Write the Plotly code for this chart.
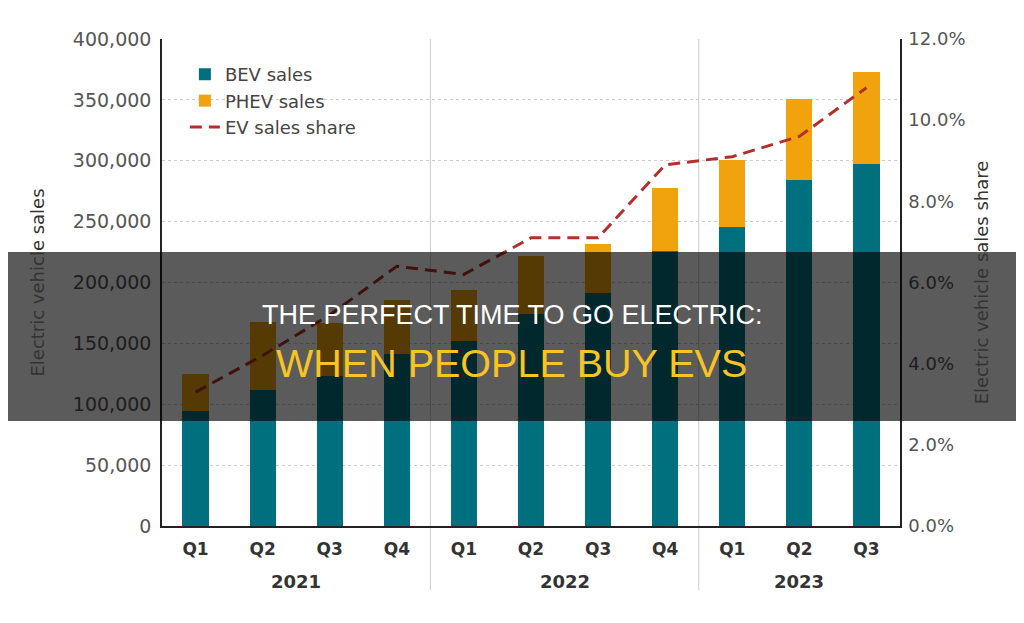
import plotly.graph_objects as go

# ---- data ----
quarters = ["Q1", "Q2", "Q3", "Q4", "Q1", "Q2", "Q3", "Q4", "Q1", "Q2", "Q3"]
years = ["2021", "2021", "2021", "2021", "2022", "2022", "2022", "2022", "2023", "2023", "2023"]
bev_sales = [94500, 111500, 123500, 141000, 152000, 174000, 191000, 226000, 246000, 284000, 297000]
phev_sales = [30500, 56000, 43500, 45000, 41500, 48000, 41000, 51500, 55000, 66500, 76000]
ev_share = [3.3, 4.2, 5.2, 6.4, 6.2, 7.1, 7.1, 8.9, 9.1, 9.6, 10.8]

left_ticks = [0, 50000, 100000, 150000, 200000, 250000, 300000, 350000, 400000]
right_ticks = [0, 2, 4, 6, 8, 10, 12]
right_tick_text = ["0.0%", "2.0%", "4.0%", "6.0%", "8.0%", "10.0%", "12.0%"]

title_line1 = "THE PERFECT TIME TO GO ELECTRIC:"
title_line2 = "WHEN PEOPLE BUY EVS"

# ---- style ----
BEV_COLOR = "#00707f"
PHEV_COLOR = "#f0a30c"
LINE_COLOR = "#b3302a"
FONT = "DejaVu Sans"

OFF = 8  # page body margin
W, H = 1024, 623
ML, MT = 162 - OFF, 39 - OFF
plot_w, plot_h = 738, 487
MR = W - ML - plot_w
MB = H - MT - plot_h

x = list(range(len(quarters)))

fig = go.Figure()
fig.add_trace(go.Bar(x=x, y=bev_sales, name="BEV sales", marker_color=BEV_COLOR,
                     marker_line_width=0, width=0.39))
fig.add_trace(go.Bar(x=x, y=phev_sales, name="PHEV sales", marker_color=PHEV_COLOR,
                     marker_line_width=0, width=0.39))
fig.add_trace(go.Scatter(x=x, y=ev_share, name="EV sales share", yaxis="y2", mode="lines",
                         line=dict(color=LINE_COLOR, width=3, dash="12px,7px")))


def py(pix):
    """page pixel y -> paper"""
    return (MT + plot_h - (pix - OFF)) / plot_h


def px(pix):
    """page pixel x -> paper"""
    return (pix - OFF - ML) / plot_w


# year group labels + separators
groups = []
for i, yr in enumerate(years):
    if not groups or groups[-1][0] != yr:
        groups.append([yr, i, i])
    else:
        groups[-1][2] = i

annotations = []
shapes = []
for gi, (yr, a, b) in enumerate(groups):
    annotations.append(dict(x=(a + b) / 2, y=py(581), xref="x", yref="paper", text=yr,
                            showarrow=False, yanchor="middle",
                            font=dict(family=FONT, size=18, color="#333333", weight="bold")))
    if gi > 0:
        shapes.append(dict(type="line", xref="x", yref="paper", x0=a - 0.5, x1=a - 0.5,
                           y0=py(590), y1=1, line=dict(color="#cccccc", width=1), layer="below"))

# dark overlay band with headline
shapes.append(dict(type="rect", xref="paper", yref="paper", x0=px(0), x1=px(1040),
                   y0=py(421), y1=py(252), fillcolor="rgba(0,0,0,0.645)",
                   line=dict(width=0), layer="above"))
annotations.append(dict(xref="paper", yref="paper", x=px(512), y=py(314.5), text=title_line1,
                        showarrow=False, xanchor="center", yanchor="middle",
                        font=dict(family="Liberation Sans", size=27, color="#ffffff")))
annotations.append(dict(xref="paper", yref="paper", x=px(511), y=py(363), text=title_line2,
                        showarrow=False, xanchor="center", yanchor="middle",
                        font=dict(family="Liberation Sans", size=39.5, color="#f7c325")))

fig.update_layout(
    width=W, height=H,
    margin=dict(l=ML, r=MR, t=MT, b=MB, autoexpand=False),
    barmode="stack",
    paper_bgcolor="white", plot_bgcolor="white",
    font=dict(family=FONT, color="#444444"),
    showlegend=True,
    legend=dict(x=0.031, y=0.965, xanchor="left", yanchor="top", bgcolor="rgba(0,0,0,0)",
                font=dict(family=FONT, size=18, color="#444444"), traceorder="normal",
                itemwidth=30, tracegroupgap=0),
    xaxis=dict(range=[-0.5, len(quarters) - 0.5], tickmode="array", tickvals=x, ticktext=quarters,
               showline=True, linecolor="#222222", linewidth=1.5, ticks="", showgrid=False,
               zeroline=False, ticklabelstandoff=7,
               tickfont=dict(family=FONT, size=17, color="#333333", weight="bold")),
    yaxis=dict(range=[0, 400000], tickmode="array", tickvals=left_ticks, tickformat=",",
               showline=True, linecolor="#222222", linewidth=1.5, ticks="",
               showgrid=True, gridcolor="#cccccc", griddash="dot", gridwidth=1,
               zeroline=False, ticklabelstandoff=5,
               tickfont=dict(family=FONT, size=19, color="#555555"),
               title=dict(text="Electric vehicle sales", standoff=24,
                          font=dict(family=FONT, size=18, color="#333333"))),
    yaxis2=dict(range=[0, 12], overlaying="y", side="right", tickmode="array",
                tickvals=right_ticks, ticktext=right_tick_text,
                showline=True, linecolor="#222222", linewidth=1.5, ticks="",
                showgrid=False, zeroline=False, ticklabelstandoff=3,
                tickfont=dict(family=FONT, size=18, color="#555555"),
                title=dict(text="Electric vehicle sales share", standoff=11,
                           font=dict(family=FONT, size=18, color="#333333"))),
    shapes=shapes,
    annotations=annotations,
)

fig.write_html("out.html")
